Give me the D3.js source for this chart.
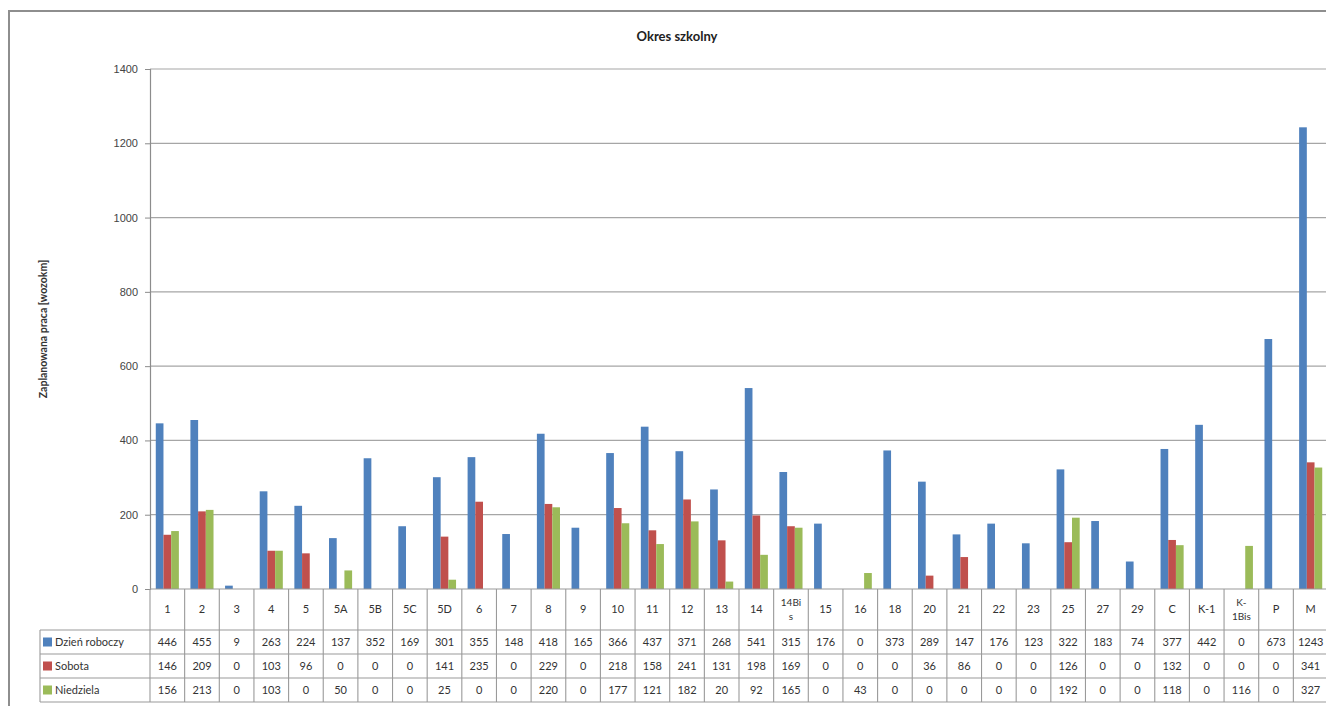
<!DOCTYPE html>
<html>
<head>
<meta charset="utf-8">
<script src="https://cdn.jsdelivr.net/npm/d3@7/dist/d3.min.js"></script>
<style>
  html, body { margin: 0; padding: 0; background: #fff; }
  svg { display: block; font-family: Lato, "Open Sans", sans-serif; }
</style>
</head>
<body>
<svg id="chart" width="1326" height="706"></svg>
<script>
// Bus routes (linie) shown in the chart and data table
const categories = ["1","2","3","4","5","5A","5B","5C","5D","6","7","8","9","10","11","12","13","14","14Bis","15","16","18","20","21","22","23","25","27","29","C","K-1","K-1Bis","P","M"];

// Planned work per day type [wozokm]
const dzienRoboczy = [446,455,9,263,224,137,352,169,301,355,148,418,165,366,437,371,268,541,315,176,0,373,289,147,176,123,322,183,74,377,442,0,673,1243];
const sobota       = [146,209,0,103,96,0,0,0,141,235,0,229,0,218,158,241,131,198,169,0,0,0,36,86,0,0,126,0,0,132,0,0,0,341];
const niedziela    = [156,213,0,103,0,50,0,0,25,0,0,220,0,177,121,182,20,92,165,0,43,0,0,0,0,0,192,0,0,118,0,116,0,327];

const seriesNames = ["Dzień roboczy", "Sobota", "Niedziela"];
const seriesColors = ["#4f81bd", "#c0504d", "#9bbb59"];
const yTicks = [0, 200, 400, 600, 800, 1000, 1200, 1400];

const title = "Okres szkolny";
const yTitle = "Zaplanowana praca [wozokm]";

const series = [dzienRoboczy, sobota, niedziela];

const svg = d3.select("#chart");
const W = 1326, H = 706;

// Outer chart frame
svg.append("rect")
  .attr("x", 9).attr("y", 11)
  .attr("width", 1400).attr("height", 800)
  .attr("fill", "#fff")
  .attr("stroke", "#8e8e8e")
  .attr("stroke-width", 2);

const plot = { left: 150, right: 1328, top: 69, bottom: 589 };

const x = d3.scaleBand()
  .domain(categories)
  .range([plot.left, plot.right])
  .paddingInner(0).paddingOuter(0);

// Excel-like gap width of ~150% between clusters
const gapRatio = 1.5;
const barW = x.bandwidth() / (series.length + gapRatio);
const inner = d3.scaleBand()
  .domain(d3.range(series.length))
  .range([x.bandwidth() * gapRatio / (series.length + gapRatio) / 2,
          x.bandwidth() * gapRatio / (series.length + gapRatio) / 2 + barW * series.length]);

const y = d3.scaleLinear()
  .domain([0, 1400])
  .range([plot.bottom, plot.top]);

// Gridlines
svg.append("g")
  .selectAll("line")
  .data(yTicks.filter(d => d > 0))
  .join("line")
  .attr("x1", plot.left).attr("x2", W)
  .attr("y1", d => y(d)).attr("y2", d => y(d))
  .attr("stroke", "#a6a6a6")
  .attr("stroke-width", 1.2);

// Y axis
const yAxis = d3.axisLeft(y)
  .tickValues(yTicks)
  .tickSize(5)
  .tickPadding(7)
  .tickFormat(d3.format("d"));
const gy = svg.append("g")
  .attr("transform", `translate(${plot.left},0)`)
  .call(yAxis);
gy.select(".domain").attr("stroke", "#8c8c8c").attr("stroke-width", 1.2);
gy.selectAll(".tick line").attr("stroke", "#8c8c8c");
gy.selectAll(".tick text")
  .attr("fill", "#444")
  .style("font-size", "11px");

// Bars
const clusters = svg.append("g")
  .selectAll("g")
  .data(categories)
  .join("g")
  .attr("transform", d => `translate(${x(d)},0)`);

clusters.selectAll("rect")
  .data((d, i) => series.map((s, k) => ({ k, v: s[i] })))
  .join("rect")
  .attr("x", d => inner(d.k))
  .attr("width", barW)
  .attr("y", d => y(d.v))
  .attr("height", d => y(0) - y(d.v))
  .attr("fill", d => seriesColors[d.k]);

// Data table under the category axis
const rowTop = 630, rowH = 24;
const tableBottom = rowTop + rowH * series.length;
const legendLeft = 40;
const grid = svg.append("g").attr("stroke", "#9a9a9a").attr("stroke-width", 1.1);

// category axis line
grid.append("line")
  .attr("x1", plot.left).attr("x2", W)
  .attr("y1", plot.bottom).attr("y2", plot.bottom);

// horizontal rules of the table
d3.range(series.length + 1).forEach(r => {
  grid.append("line")
    .attr("x1", legendLeft).attr("x2", W)
    .attr("y1", rowTop + r * rowH).attr("y2", rowTop + r * rowH);
});

// column separators
const bounds = categories.map(c => x(c)).concat([plot.right]);
grid.selectAll(".col")
  .data(bounds)
  .join("line")
  .attr("x1", d => d).attr("x2", d => d)
  .attr("y1", plot.bottom).attr("y2", tableBottom);

grid.append("line")
  .attr("x1", legendLeft).attr("x2", legendLeft)
  .attr("y1", rowTop).attr("y2", tableBottom);

// category labels (wrapped inside the header cell when too wide)
const headerMid = (plot.bottom + rowTop) / 2;
const header = svg.append("g")
  .style("font-size", "11px")
  .attr("fill", "#333")
  .attr("text-anchor", "middle");

categories.forEach(c => {
  const cx = x(c) + x.bandwidth() / 2;
  const t = header.append("text").attr("x", cx).text(c);
  const maxW = x.bandwidth() - 12;
  let lines = [c];
  if (t.node().getComputedTextLength() > maxW) {
    const h = c.indexOf("-");
    if (h >= 0) {
      lines = [c.slice(0, h + 1), c.slice(h + 1)];
    } else {
      let cut = c.length - 1;
      while (cut > 1) {
        t.text(c.slice(0, cut));
        if (t.node().getComputedTextLength() <= maxW) break;
        cut--;
      }
      lines = [c.slice(0, cut), c.slice(cut)];
    }
  }
  t.text(null);
  const lh = 14;
  lines.forEach((ln, i) => {
    t.append("tspan")
      .attr("x", cx)
      .attr("y", headerMid + (i - (lines.length - 1) / 2) * lh)
      .attr("dy", "0.35em")
      .style("font-size", lines.length > 1 ? "10px" : "11px")
      .text(ln);
  });
});

// table values
const body = svg.append("g")
  .style("font-size", "11px")
  .attr("fill", "#333");

series.forEach((s, k) => {
  const cy = rowTop + k * rowH + rowH / 2;
  body.append("rect")
    .attr("x", legendLeft + 3).attr("y", cy - 4.5)
    .attr("width", 9).attr("height", 9)
    .attr("fill", seriesColors[k]);
  body.append("text")
    .attr("x", legendLeft + 15).attr("y", cy)
    .attr("dy", "0.35em")
    .text(seriesNames[k]);
  body.selectAll(null)
    .data(s)
    .join("text")
    .attr("x", (d, i) => x(categories[i]) + x.bandwidth() / 2)
    .attr("y", cy)
    .attr("dy", "0.35em")
    .attr("text-anchor", "middle")
    .text(d => d);
});

// Titles
svg.append("text")
  .attr("x", 677).attr("y", 41)
  .attr("text-anchor", "middle")
  .style("font-size", "13px")
  .style("font-weight", "bold")
  .attr("fill", "#222")
  .text(title);

svg.append("text")
  .attr("transform", `translate(47,329) rotate(-90)`)
  .attr("text-anchor", "middle")
  .style("font-size", "10.5px")
  .style("font-weight", "bold")
  .attr("fill", "#333")
  .text(yTitle);
</script>
</body>
</html>
